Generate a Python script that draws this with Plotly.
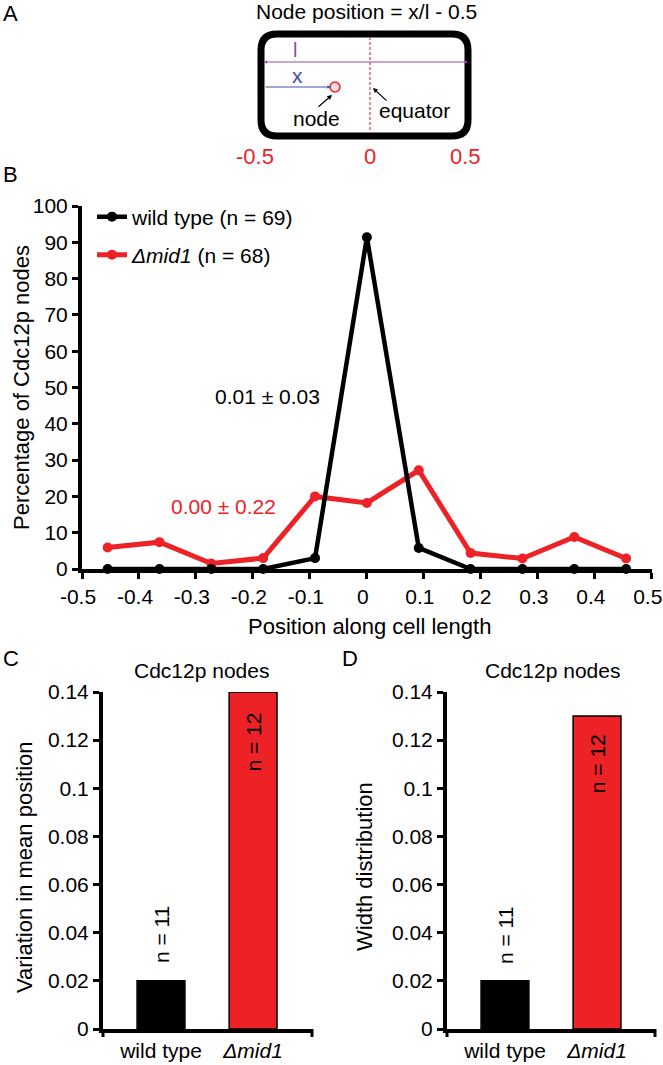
import plotly.graph_objects as go

W, H = 663, 1065
FONT = "Liberation Sans, Arial, sans-serif"
RED = "#EC2227"

# ---- data ----
positions = [-0.455, -0.364, -0.273, -0.182, -0.091, 0.0, 0.091, 0.182, 0.273, 0.364, 0.455]
wild_type_pct = [0, 0, 0, 0, 3.0, 91.4, 5.8, 0, 0, 0, 0]
mid1_pct = [5.9, 7.4, 1.5, 3.0, 20.0, 18.2, 27.2, 4.4, 2.9, 8.8, 2.9]

x_ticks = [-0.5, -0.4, -0.3, -0.2, -0.1, 0, 0.1, 0.2, 0.3, 0.4, 0.5]
x_ticktext = ["-0.5", "-0.4", "-0.3", "-0.2", "-0.1", "0", "0.1", "0.2", "0.3", "0.4", "0.5"]
y_ticks_b = [0, 10, 20, 30, 40, 50, 60, 70, 80, 90, 100]

bar_x = [0, 1]
bar_labels = ["wild type", "<i>Δmid1</i>"]
variation_mean = [0.02, 0.14]
width_distribution = [0.02, 0.13]
n_labels = ["n = 11", "n = 12"]
bar_colors = ["#000000", RED]
y_ticks_cd = [0, 0.02, 0.04, 0.06, 0.08, 0.1, 0.12, 0.14]
y_ticktext_cd = ["0", "0.02", "0.04", "0.06", "0.08", "0.1", "0.12", "0.14"]


def px(x):
    return x / W


def py(y):
    return 1 - y / H


fig = go.Figure()

# ---- panel B (red drawn first so the black line sits on top) ----
fig.add_trace(go.Scatter(
    x=positions, y=mid1_pct, mode="lines+markers", name="<i>Δmid1</i> (n = 68)",
    line=dict(color=RED, width=5), marker=dict(size=10, color=RED),
    xaxis="x", yaxis="y", legend="legend2", cliponaxis=False))
fig.add_trace(go.Scatter(
    x=positions, y=wild_type_pct, mode="lines+markers", name="wild type (n = 69)",
    line=dict(color="black", width=4.5), marker=dict(size=10, color="black"),
    xaxis="x", yaxis="y", legend="legend", cliponaxis=False))

# ---- panels C, D ----
fig.add_trace(go.Bar(x=bar_x, y=variation_mean, width=0.52,
                     marker=dict(color=bar_colors, line=dict(color="black", width=1.5)),
                     xaxis="x2", yaxis="y2", showlegend=False))
fig.add_trace(go.Bar(x=bar_x, y=width_distribution, width=0.52,
                     marker=dict(color=bar_colors, line=dict(color="black", width=1.5)),
                     xaxis="x3", yaxis="y3", showlegend=False))

TICKF_B = dict(family=FONT, size=21, color="black")
TICKF_CD = dict(family=FONT, size=21, color="black")


def lin_axis(**kw):
    d = dict(showgrid=False, zeroline=False, showline=True, linecolor="black",
             linewidth=4, ticks="outside", tickcolor="black", tickwidth=3, ticklen=6,
             automargin=False, ticklabeloverflow="allow")
    d.update(kw)
    return d


fig.update_layout(
    template=go.layout.Template(),
    width=W, height=H, margin=dict(l=0, r=0, t=0, b=0, pad=0, autoexpand=False),
    paper_bgcolor="white", plot_bgcolor="white",
    font=dict(family=FONT, color="black"),
    bargap=0,
    xaxis=lin_axis(domain=[px(82), px(652)], range=[-0.5, 0.5004], anchor="y",
                   tickvals=x_ticks, ticktext=x_ticktext, tickfont=TICKF_B,
                   ticklabelshift=-4),
    yaxis=lin_axis(domain=[py(569), py(206)], range=[0, 100], anchor="x",
                   tickvals=y_ticks_b, tickfont=TICKF_B),
    xaxis2=lin_axis(domain=[px(103), px(312)], range=[-0.63, 1.64], anchor="y2",
                    tickvals=bar_x, ticktext=bar_labels, ticks="", tickfont=TICKF_CD),
    yaxis2=lin_axis(domain=[py(1029), py(692)], range=[0, 0.14], anchor="x2",
                    tickvals=y_ticks_cd, ticktext=y_ticktext_cd, tickfont=TICKF_CD),
    xaxis3=lin_axis(domain=[px(447), px(655)], range=[-0.63, 1.63], anchor="y3",
                    tickvals=bar_x, ticktext=bar_labels, ticks="", tickfont=TICKF_CD),
    yaxis3=lin_axis(domain=[py(1029), py(692)], range=[0, 0.14], anchor="x3",
                    tickvals=y_ticks_cd, ticktext=y_ticktext_cd, tickfont=TICKF_CD),
    legend=dict(x=px(92), y=py(217), xanchor="left", yanchor="middle",
                font=dict(family=FONT, size=21, color="black"), bgcolor="rgba(0,0,0,0)"),
    legend2=dict(x=px(92), y=py(255), xanchor="left", yanchor="middle",
                 font=dict(family=FONT, size=21, color="black"), bgcolor="rgba(0,0,0,0)"),
)

ann = []


def text(x, y, s, size=21, color="black", angle=0, xanchor="center", xref="paper", yref="paper"):
    if xref == "paper":
        x = px(x)
    if yref == "paper":
        y = py(y)
    ann.append(dict(x=x, y=y, text=s, xref=xref, yref=yref, showarrow=False,
                    font=dict(family=FONT, size=size, color=color), textangle=angle,
                    xanchor=xanchor, yanchor="middle"))


def arrow(hx, hy, tx, ty, color, size=0.8, both=False):
    a = dict(x=px(hx), y=py(hy), ax=tx - hx, ay=ty - hy, xref="paper", yref="paper",
             axref="pixel", ayref="pixel", showarrow=True, arrowhead=2, arrowsize=size,
             arrowwidth=1.2, arrowcolor=color, text="")
    if both:
        a.update(arrowside="end+start", startarrowhead=2, startarrowsize=size)
    ann.append(a)


# panel letters
text(10, 13, "A", size=22)
text(10, 174, "B", size=22)
text(11, 658, "C", size=22)
text(350, 658, "D", size=22)

# panel A schematic
text(366, 12, "Node position = x/l - 0.5", size=21)
text(255, 156, "-0.5", size=22, color=RED)
text(370, 156, "0", size=22, color=RED)
text(466, 156, "0.5", size=22, color=RED)
text(295, 50, "l", size=20, color="#8E4A9C")
text(297, 75, "x", size=21, color="#3F4FA3")
text(316, 118, "node", size=21)
text(414, 110, "equator", size=21)

arrow(468, 62, 262, 62, "#9B4FA0", size=0.6, both=True)
arrow(331, 87, 264, 87, "#3F55A8", size=0.6)
arrow(332, 95, 317, 108, "black")
arrow(373, 88, 388, 102, "black")

# panel B annotations
text(-0.174, 47.4, "0.01 ± 0.03", size=21, xref="x", yref="y")
text(-0.251, 17.1, "0.00 ± 0.22", size=21, color=RED, xref="x", yref="y")
text(369, 626, "Position along cell length", size=22)
text(21, 388, "Percentage of Cdc12p nodes", size=22, angle=-90)

# panels C, D
text(202, 670, "Cdc12p nodes", size=21)
text(552, 670, "Cdc12p nodes", size=21)
text(24, 867, "Variation in mean position", size=22, angle=-90)
text(364, 867, "Width distribution", size=22, angle=-90)
for xr, yr, vals, inner in (("x2", "y2", variation_mean, 0.021), ("x3", "y3", width_distribution, 0.02)):
    text(bar_x[0], vals[0] + 0.019, n_labels[0], size=21, angle=-90, xref=xr, yref=yr)
    text(bar_x[1], vals[1] - inner, n_labels[1], size=21, angle=-90, xref=xr, yref=yr)

fig.update_layout(annotations=ann)


def path(points):
    out = []
    for cmd, pts in points:
        coords = " ".join(f"{px(x):.5f},{py(y):.5f}" for x, y in pts)
        out.append(f"{cmd} {coords}".strip())
    return " ".join(out)


L, R, T, B, r = 261, 468, 34, 136, 16
rect_path = path([
    ("M", [(L + r, T)]), ("L", [(R - r, T)]), ("Q", [(R, T), (R, T + r)]),
    ("L", [(R, B - r)]), ("Q", [(R, B), (R - r, B)]),
    ("L", [(L + r, B)]), ("Q", [(L, B), (L, B - r)]),
    ("L", [(L, T + r)]), ("Q", [(L, T), (L + r, T)]), ("Z", []),
])

shapes = [
    dict(type="path", xref="paper", yref="paper", path=rect_path,
         line=dict(color="black", width=7)),
    dict(type="line", xref="paper", yref="paper", x0=px(370), x1=px(370), y0=py(37), y1=py(132),
         line=dict(color="#E0393E", width=1.2, dash="3px,2px")),
    dict(type="circle", xref="paper", yref="paper", x0=px(330), x1=px(340), y0=py(82), y1=py(92),
         line=dict(color=RED, width=1.5), fillcolor="rgba(240,150,150,0.35)"),
]
for xr in ("x2", "x3"):
    for xd in (0, 1):
        shapes.append(dict(type="line", xref=f"{xr} domain", yref="paper", x0=xd, x1=xd,
                           y0=py(1029), y1=py(1037), line=dict(color="black", width=3)))
fig.update_layout(shapes=shapes)

fig.write_html(
    "out.html",
    config={"displayModeBar": False, "staticPlot": True},
    post_script="document.body.style.margin='0';document.body.style.padding='0';"
                "document.documentElement.style.overflow='hidden';",
)
